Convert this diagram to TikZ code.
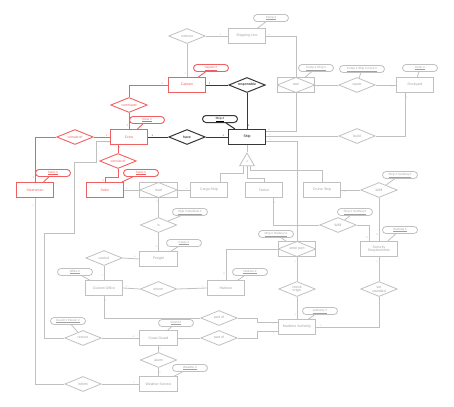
\documentclass[tikz,border=0pt]{standalone}
\usepackage{fontspec}
\setmainfont{Liberation Sans}
\usepackage{xcolor}
\usepackage{tikz}
\usetikzlibrary{calc,shapes.geometric}

\definecolor{erline}{RGB}{192,192,192}
\definecolor{ertext}{RGB}{160,160,160}
\definecolor{erred}{RGB}{240,96,96}
\definecolor{erdark}{RGB}{55,55,55}

\begin{document}
\begin{tikzpicture}[
  x=2pt, y=-2pt,
  font=\fontsize{7}{7.6}\selectfont,
  entity/.style={rectangle,draw,align=center,minimum width=75pt,minimum height=30pt,inner sep=1pt},
  relation/.style={diamond,draw,align=center,aspect=2.4,minimum width=73pt,minimum height=30pt,inner sep=0pt},
  assoc/.style={entity,path picture={\draw[erline,line width=1.6pt] (path picture bounding box.west) -- (path picture bounding box.north) -- (path picture bounding box.east) -- (path picture bounding box.south) -- cycle;}},
  attr/.style={rectangle,draw,rounded corners=7pt,minimum width=70pt,minimum height=14pt,inner sep=2pt,font=\fontsize{6}{6.5}\selectfont},
  isa/.style={regular polygon,regular polygon sides=3,draw,minimum size=34pt,inner sep=0pt,font=\fontsize{5}{5}\selectfont},
  card/.style={font=\fontsize{5}{5}\selectfont,inner sep=1pt},
  greypart/.style={draw=erline,text=ertext,line width=1.6pt},
  redpart/.style={draw=erred,text=erred,line width=1.8pt},
  darkpart/.style={draw=erdark,text=black,line width=2pt},
  gline/.style={color=erline,line width=1.6pt},
  rline/.style={color=erred,line width=1.8pt},
  dline/.style={color=erdark,line width=2pt}
]
  \useasboundingbox (0,0) rectangle (454,406);

  \node[entity,greypart] (shipline) at (247,36) {Shipping Line};
  \node[entity,redpart] (captain) at (187,85) {Captain};
  \node[entity,greypart] (dockyard) at (415,85) {Dockyard};
  \node[entity,darkpart] (ship) at (247,137) {Ship};
  \node[entity,redpart] (crew) at (129,137) {Crew};
  \node[entity,redpart] (steersman) at (35,190) {Steersman};
  \node[entity,redpart] (sailor) at (105,190) {Sailor};
  \node[entity,greypart] (cargoship) at (209,190) {Cargo Ship};
  \node[entity,greypart] (tanker) at (264,190) {Tanker};
  \node[entity,greypart] (cruise) at (322,190) {Cruise Ship};
  \node[entity,greypart] (secreq) at (379,249) {Security\\Requirements};
  \node[entity,greypart] (freight) at (158.5,259) {Freight};
  \node[entity,greypart] (custom) at (104,288) {Custom Office};
  \node[entity,greypart] (harbour) at (226,288) {Harbour};
  \node[entity,greypart] (maritime) at (297,327) {Maritime Authority};
  \node[entity,greypart] (coast) at (158.5,338) {Coast Guard};
  \node[entity,greypart] (weather) at (158.5,384) {Weather Service};

  \node[assoc,greypart] (own) at (296,85) {own};
  \node[assoc,greypart] (load) at (158.5,190) {load};
  \node[assoc,greypart] (enterport) at (297,249) {enter port};

  \node[relation,greypart] (contract) at (187,36) {contract};
  \node[relation,darkpart] (responsible) at (247,85) {responsible};
  \node[relation,greypart] (repair) at (357,85) {repair};
  \node[relation,redpart] (command) at (129,105) {command};
  \node[relation,darkpart] (have) at (187,137) {have};
  \node[relation,greypart] (build) at (357,136) {build};
  \node[relation,redpart] (consistA) at (75,137) {consist of};
  \node[relation,redpart] (consistB) at (118,161) {consist of};
  \node[relation,greypart] (fulfillA) at (379,190) {fulfill};
  \node[relation,greypart] (is) at (158.5,225) {is};
  \node[relation,greypart] (fulfillB) at (338,225) {fulfill};
  \node[relation,greypart] (control) at (104,258) {control};
  \node[relation,greypart] (informA) at (158.5,289) {inform};
  \node[relation,greypart] (checkorigin) at (297,289) {check\\origin};
  \node[relation,greypart] (setstandard) at (379,289) {set\\standard};
  \node[relation,greypart] (partofA) at (219,318) {part of};
  \node[relation,greypart] (partofB) at (219,338) {part of};
  \node[relation,greypart] (rescue) at (83,338) {rescue};
  \node[relation,greypart] (alarm) at (158.5,360) {alarm};
  \node[relation,greypart] (informB) at (83,384) {inform};

  \node[isa,greypart] (isa) at (247,161.5) {d};

  \node[attr,greypart] (compno) at (271,18) {\underline{Comp.\#}};
  \node[attr,redpart] (captainno) at (211,68) {\underline{Captain \#}};
  \node[attr,darkpart] (shipno) at (220,119) {\underline{Ship \#}};
  \node[attr,redpart] (crewno) at (147,120) {\underline{Crew \#}};
  \node[attr,greypart] (ownkey) at (316,68) {\underline{Comp.\# Ship \#}};
  \node[attr,greypart,minimum width=90pt] (repairkey) at (362,69) {\underline{Comp.\# Ship \# Dock \#}};
  \node[attr,greypart] (dockno) at (420,68) {\underline{Dock \#}};
  \node[attr,redpart] (steerno) at (53,173) {\underline{Sailor \#}};
  \node[attr,redpart] (sailorno) at (141,173) {\underline{Sailor \#}};
  \node[attr,greypart] (iskey) at (190,212) {\underline{Ship \# Manifest \#}};
  \node[attr,greypart] (cargono) at (184,243) {\underline{Cargo \#}};
  \node[attr,greypart] (enterkey) at (276,234) {\underline{Ship \# Harbour \#}};
  \node[attr,greypart] (fulfillkeyA) at (400,175) {\underline{Ship \# SecReq \#}};
  \node[attr,greypart] (fulfillkeyB) at (355,212) {\underline{Ship \# SecReq \#}};
  \node[attr,greypart] (secreqno) at (400,230) {\underline{SecReq \#}};
  \node[attr,greypart] (officeno) at (75,272) {\underline{Office \#}};
  \node[attr,greypart] (harbourno) at (250,272) {\underline{Harbour \#}};
  \node[attr,greypart] (authno) at (320,311) {\underline{Authority \#}};
  \node[attr,greypart] (rescuekey) at (68,321) {\underline{Guard \# Person \#}};
  \node[attr,greypart] (guardno) at (176,323) {\underline{Guard \#}};
  \node[attr,greypart] (weatherno) at (190,368) {\underline{Weather \#}};

  \draw[rline] (command.north) |- node[card,pos=.93,above]{1} (captain.west);
  \draw[rline] (command.south) -- node[card,pos=.8,left]{1} (crew.north);
  \draw[rline] (crew.west) -- node[card,pos=.2,above]{1} (consistA.east);
  \draw[rline] (consistA.west) -| node[card,pos=.95,left]{1} (steersman.north);
  \draw[rline] (consistB.north |- crew.south) -- node[card,pos=.3,right]{1} (consistB.north);
  \draw[rline] (consistB.south) -- ++(0,8.5) -| node[card,pos=.9,left]{n} (sailor.north);
  \draw[rline] (captainno) -- (captain);
  \draw[rline] (crewno) -- (crew);
  \draw[rline] (steerno) -- (steersman);
  \draw[rline] (sailorno) -- (sailor);

  \draw[dline] (captain.east) -- node[card,pos=.15,above]{1} (responsible.west);
  \draw[dline] (responsible.south) -- node[card,pos=.9,right]{1} (ship.north);
  \draw[dline] (crew.east) -- node[card,pos=.2,above]{1} (have.west);
  \draw[dline] (have.east) -- node[card,pos=.8,above]{1} (ship.west);
  \draw[dline] (shipno) -- (ship);

  \draw[gline] (contract.east) -- node[card,pos=.67,above]{1} (shipline.west);
  \draw[gline] (contract.south) -- node[card,pos=.9,left]{n} (captain.north);
  \draw[gline] (shipline.east) -| node[card,pos=.05,above]{n} (own.north);
  \draw[gline] (own.south) |- node[card,pos=.95,above]{m} ([yshift=11pt]ship.east);
  \draw[gline] (own.east) -- node[card,pos=.12,below]{n} (repair.west);
  \draw[gline] (repair.east) -- node[card,pos=.8,below]{n} (dockyard.west);
  \draw[gline] (ship.east |- build.west) -- node[card,pos=.05,above]{n} (build.west);
  \draw[gline] ([xshift=-20pt]dockyard.south) |- node[card,pos=.05,right]{1} (build.east);
  \draw[gline] ([yshift=-9pt]ship.east) -| node[card,pos=.06,above]{n} (enterport.north);
  \draw[gline] (ship.south) -- (isa.corner 1);
  \coordinate (isaA) at ($(isa.corner 2)!.25!(isa.corner 3)$);
  \coordinate (isaB) at ($(isa.corner 2)!.5!(isa.corner 3)$);
  \coordinate (isaC) at ($(isa.corner 2)!.72!(isa.corner 3)$);
  \draw[gline] (isaA) -- ++(0,7) -| ([xshift=22pt]cargoship.north);
  \draw[gline] (isaB) -- ++(0,12) -| (tanker.north);
  \draw[gline] (isaC) -- ++(0,4) -| (cruise.north);
  \draw[gline] (sailor.east) -- node[card,pos=.15,above]{n} (load.west);
  \draw[gline] (load.east) -- node[card,pos=.75,above]{1} (cargoship.west);
  \draw[gline] (load.south) -- node[card,pos=.2,left]{n} (is.north);
  \draw[gline] (is.south) -- node[card,pos=.75,left]{m} (freight.north);
  \draw[gline] (control.east) -- node[card,pos=.75,above]{n} (freight.west);
  \draw[gline] (control.south) -- node[card,pos=.7,left]{1} (custom.north);
  \draw[gline] (custom.east) -- node[card,pos=.2,above]{1} (informA.west);
  \draw[gline] (informA.east) -- node[card,pos=.85,above]{1} (harbour.west);
  \draw[gline] (harbour.north) |- node[card,pos=.1,left]{m} (enterport.west);
  \draw[gline] (enterport.south) -- node[card,pos=.2,left]{n} (checkorigin.north);
  \draw[gline] (checkorigin.south) -- node[card,pos=.8,left]{1} (maritime.north);
  \draw[gline] (maritime.east) -| node[card,pos=.04,above]{1} (setstandard.south);
  \draw[gline] (setstandard.north) -- node[card,pos=.8,left]{n} (secreq.south);
  \draw[gline] (cruise.east) -- node[card,pos=.2,below]{n} (fulfillA.west);
  \draw[gline] (fulfillA.south) -- node[card,pos=.85,left]{m} (secreq.north);
  \draw[gline] (fulfillB.east) -| node[card,pos=.9,left]{m} ([xshift=-20pt]secreq.north);
  \draw[gline] ([xshift=18pt]tanker.south) |- node[card,pos=.1,right]{n} (fulfillB.west);
  \draw[gline] (custom.south) |- node[card,pos=.1,right]{1} (partofA.west);
  \draw[gline] (partofA.east) -- ++(20,0) |- node[card,pos=.9,below]{1} ([yshift=10pt]maritime.west);
  \draw[gline] (coast.east) -- node[card,pos=.2,below]{1} (partofB.west);
  \draw[gline] (partofB.east) -- ++(20,0) |- node[card,pos=.9,below]{1} ([yshift=-8pt]maritime.west);
  \draw[gline] ([yshift=-8pt]crew.west) node[card,below left]{n} -| ++(-13,21) -| ++(-22,71) -| ++(-30,105) -- (rescue.west);
  \draw[gline] (rescue.east) -- node[card,pos=.85,above]{m} (coast.west);
  \draw[gline] (steersman.south) |- node[card,pos=.02,left]{n} (informB.west);
  \draw[gline] (informB.east) -- node[card,pos=.85,above]{1} (weather.west);
  \draw[gline] (coast.south) -- node[card,pos=.4,right]{n} (alarm.north);
  \draw[gline] (alarm.south) -- node[card,pos=.6,right]{1} (weather.north);

  \draw[gline] (compno) -- (shipline);
  \draw[gline] (ownkey) -- (own);
  \draw[gline] (repairkey) -- (repair);
  \draw[gline] (dockno) -- (dockyard);
  \draw[gline] (iskey) -- (is);
  \draw[gline] (cargono) -- (freight);
  \draw[gline] (enterkey) -- (enterport);
  \draw[gline] (fulfillkeyA) -- (fulfillA);
  \draw[gline] (fulfillkeyB) -- (fulfillB);
  \draw[gline] (secreqno) -- (secreq);
  \draw[gline] (officeno) -- (custom);
  \draw[gline] (harbourno) -- (harbour);
  \draw[gline] (authno) -- (maritime);
  \draw[gline] (rescuekey) -- (rescue);
  \draw[gline] (guardno) -- (coast);
  \draw[gline] (weatherno) -- (weather);
\end{tikzpicture}
\end{document}
